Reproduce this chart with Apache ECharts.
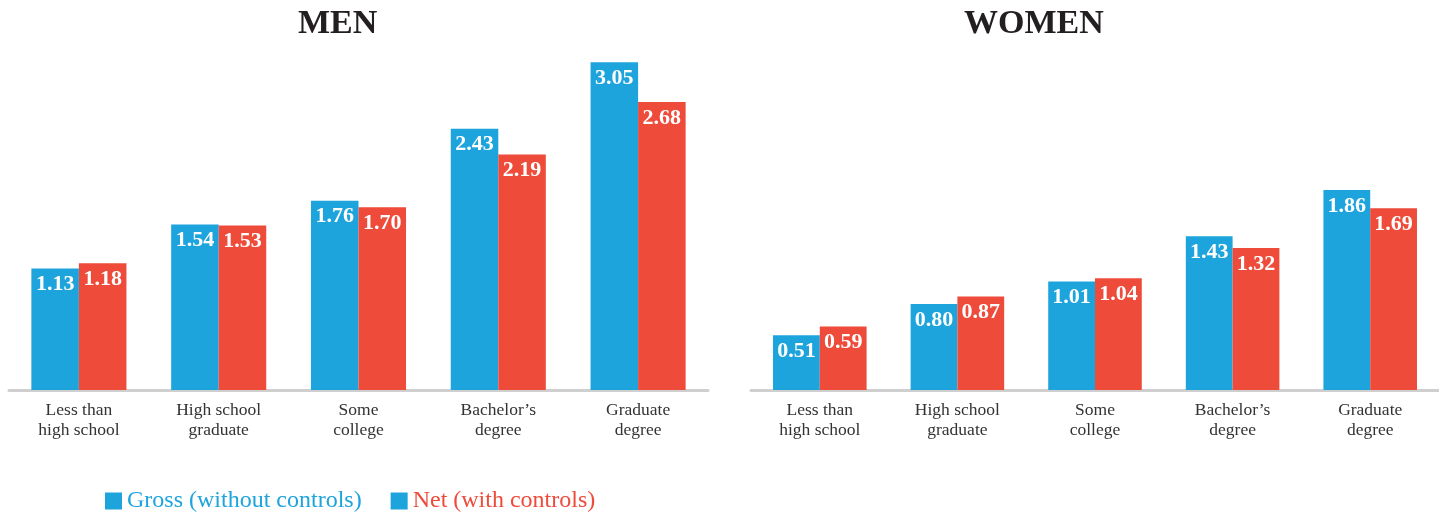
<!DOCTYPE html>
<html><head><meta charset="utf-8">
<script src="https://cdn.jsdelivr.net/npm/echarts@6/dist/echarts.min.js"></script>
<style>html,body{margin:0;padding:0;background:#fff}#c{width:1439px;height:514px}</style>
</head><body><div id="c"></div>
<script>
const categories = ["Less than\nhigh school","High school\ngraduate","Some\ncollege","Bachelor’s\ndegree","Graduate\ndegree"];
const menGross = [1.13,1.54,1.76,2.43,3.05];
const menNet = [1.18,1.53,1.70,2.19,2.68];
const womenGross = [0.51,0.80,1.01,1.43,1.86];
const womenNet = [0.59,0.87,1.04,1.32,1.69];
const seriesNames = ["Gross (without controls)","Net (with controls)"];

const BLUE = '#1DA4DD', RED = '#EE4B3B';
const SERIF = '"Liberation Serif","DejaVu Serif",serif';
const chart = echarts.init(document.getElementById('c'));
const lbl = {show:true, position:'insideTop', distance:5, color:'#fff', fontFamily:SERIF, fontWeight:'bold', fontSize:22, formatter:p=>p.value.toFixed(2)};
function xa(i){return {type:'category', gridIndex:i, data:categories,
  axisLine:{lineStyle:{color:'#cfcfcf', width:3}}, axisTick:{show:false},
  axisLabel:{color:'#333', fontFamily:SERIF, fontSize:17.5, lineHeight:20, margin:10}};}
function ya(i){return {type:'value', gridIndex:i, min:0, max:3.2, show:false, splitLine:{show:false}};}
function s(name,data,i,color){return {name, type:'bar', xAxisIndex:i, yAxisIndex:i, data, barGap:'0%', barCategoryGap:'32%', itemStyle:{color}, label:lbl};}
const titleStyle = {fontFamily:SERIF, fontWeight:900, fontSize:34, color:'#231f20'};
chart.setOption({
  animation:false,
  title:[
    {text:'MEN', left:298, top:7, padding:0, textStyle:titleStyle},
    {text:'WOMEN', left:964, top:7, padding:0, textStyle:titleStyle}
  ],
  legend:{left:100, top:484, itemWidth:17, itemHeight:17, itemGap:29, icon:'rect',
    textStyle:{fontFamily:SERIF, fontSize:24},
    data:[{name:seriesNames[0], itemStyle:{color:BLUE}, textStyle:{color:BLUE}},
          {name:seriesNames[1], itemStyle:{color:BLUE}, textStyle:{color:RED}}]},
  grid:[{left:9, top:46, width:699, height:344},{left:751, top:46, right:0, height:344}],
  xAxis:[xa(0),xa(1)], yAxis:[ya(0),ya(1)],
  series:[s(seriesNames[0],menGross,0,BLUE), s(seriesNames[1],menNet,0,RED),
          s(seriesNames[0],womenGross,1,BLUE), s(seriesNames[1],womenNet,1,RED)]
});
</script></body></html>
